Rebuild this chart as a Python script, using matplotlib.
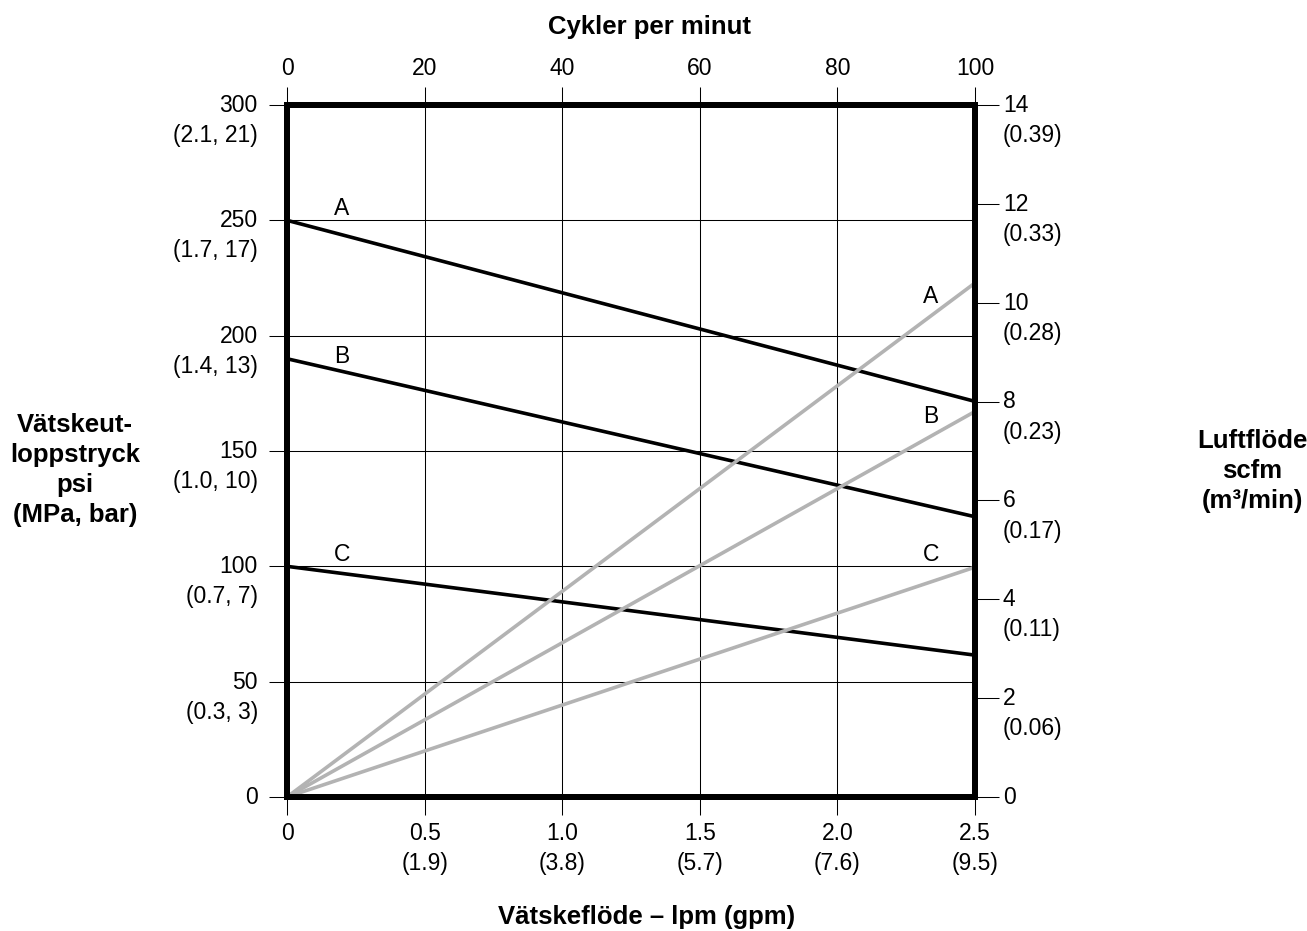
import matplotlib.pyplot as plt
from matplotlib.transforms import offset_copy

plt.rcParams['font.family'] = ['Liberation Sans', 'DejaVu Sans']

# bottom axis: fluid flow lpm (gpm)
flow_ticks = [0, 0.5, 1.0, 1.5, 2.0, 2.5]
flow_labels = ["0", "0.5\n(1.9)", "1.0\n(3.8)", "1.5\n(5.7)", "2.0\n(7.6)", "2.5\n(9.5)"]

# top axis: cycles per minute
cycle_ticks = [0, 20, 40, 60, 80, 100]

# left axis: fluid outlet pressure psi (MPa, bar)
psi_ticks = [0, 50, 100, 150, 200, 250, 300]
psi_labels = ["0", "50\n(0.3, 3)", "100\n(0.7, 7)", "150\n(1.0, 10)",
              "200\n(1.4, 13)", "250\n(1.7, 17)", "300\n(2.1, 21)"]

# right axis: air flow scfm (m3/min)
air_ticks = [0, 2, 4, 6, 8, 10, 12, 14]
air_labels = ["0", "2\n(0.06)", "4\n(0.11)", "6\n(0.17)", "8\n(0.23)",
              "10\n(0.28)", "12\n(0.33)", "14\n(0.39)"]

curve_names = ["A", "B", "C"]
# pressure curves (black): psi at flow 0 and 2.5
pressure_x = [0, 2.5]
pressure_y = {"A": [250, 171.5], "B": [190, 121.5], "C": [100, 61.5]}
# air consumption curves (gray): scfm at flow 0 and 2.5
air_x = [0, 2.5]
air_y = {"A": [0, 10.4], "B": [0, 7.8], "C": [0, 4.65]}

# letter positions (flow, psi)
pressure_label_pos = {"A": (0.2, 250), "B": (0.2, 186), "C": (0.2, 100)}
air_label_pos = {"A": (2.34, 212), "B": (2.34, 160), "C": (2.34, 100)}

GRAY = "#b3b3b3"
FS = 16.5
TITLE_FS = 18.5
LS = 1.4

fig = plt.figure(figsize=(13.07, 9.31), dpi=100)
ax = fig.add_axes([287 / 1307, 1 - 797 / 931, 688 / 1307, 692 / 931])
ax.set_xlim(0, 2.5)
ax.set_ylim(0, 300)

ax.set_xticks(flow_ticks)
ax.set_xticklabels(flow_labels, fontsize=FS, linespacing=LS)
ax.set_yticks(psi_ticks)
ax.set_yticklabels([])
ax.tick_params(axis='both', direction='out', length=13, width=0.75, pad=5)
ax.grid(True, color='black', linewidth=0.75)
for s in ax.spines.values():
    s.set_linewidth(4.3)
    s.set_zorder(5)

# two-line left tick labels, first line centred on the tick
for y, lab in zip(psi_ticks, psi_labels):
    t = offset_copy(ax.get_yaxis_transform(), fig=fig, x=-21, y=8, units='points')
    ax.text(0, y, lab, transform=t, ha='right', va='top', fontsize=FS,
            linespacing=LS, multialignment='right')

ax2 = ax.twinx()
ax2.set_ylim(0, 14)
ax2.set_yticks(air_ticks)
ax2.set_yticklabels([])
ax2.tick_params(axis='y', direction='out', length=17, width=0.75)
for s in ax2.spines.values():
    s.set_linewidth(4.3)
for y, lab in zip(air_ticks, air_labels):
    t = offset_copy(ax2.get_yaxis_transform(), fig=fig, x=20, y=8, units='points')
    ax2.text(1, y, lab, transform=t, ha='left', va='top', fontsize=FS,
             linespacing=LS, multialignment='left')

top = ax.secondary_xaxis('top', functions=(lambda x: x * 40, lambda x: x / 40))
top.set_xticks(cycle_ticks)
top.tick_params(direction='out', length=13, width=0.75, pad=5, labelsize=FS)

for name in curve_names:
    ax2.plot(air_x, air_y[name], color=GRAY, linewidth=2.6, solid_capstyle='butt')
    ax.plot(pressure_x, pressure_y[name], color='black', linewidth=2.6,
            solid_capstyle='butt', zorder=4)
    px, py = pressure_label_pos[name]
    ax.text(px, py, name, fontsize=FS, ha='center', va='bottom')
    gx, gy = air_label_pos[name]
    ax.text(gx, gy, name, fontsize=FS, ha='center', va='bottom')

fig.text(650 / 1307, 1 - 34 / 931, "Cykler per minut", fontsize=TITLE_FS,
         fontweight='bold', ha='center', va='baseline')
fig.text(647 / 1307, 1 - 924 / 931, "Vätskeflöde – lpm (gpm)", fontsize=TITLE_FS,
         fontweight='bold', ha='center', va='baseline')
fig.text(75 / 1307, 1 - 470 / 931, "Vätskeut-\nloppstryck\npsi\n(MPa, bar)",
         fontsize=TITLE_FS, fontweight='bold', ha='center', va='center',
         linespacing=1.3)
fig.text(1252 / 1307, 1 - 471 / 931, "Luftflöde\nscfm\n(m³/min)",
         fontsize=TITLE_FS, fontweight='bold', ha='center', va='center',
         linespacing=1.3)

fig.savefig("out.png", dpi=100)
